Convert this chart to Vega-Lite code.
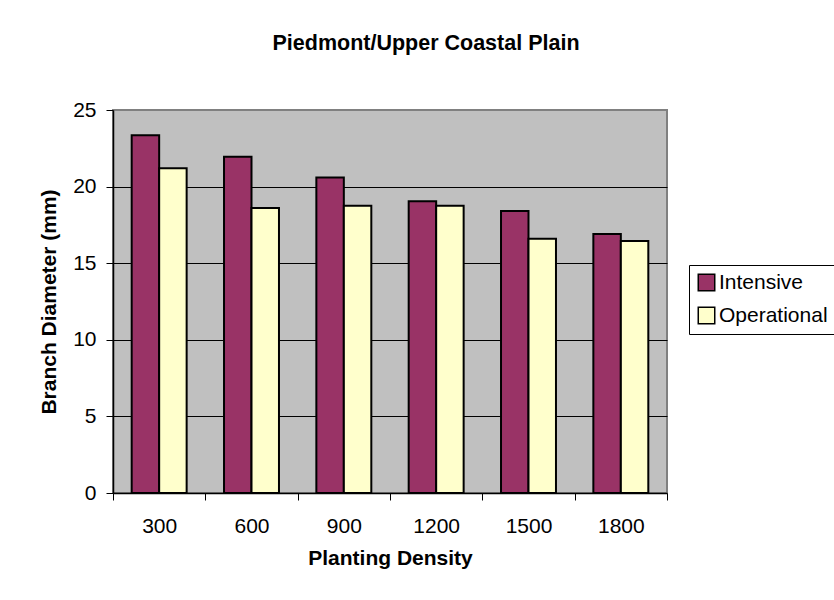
{
  "$schema": "https://vega.github.io/schema/vega-lite/v6.json",
  "autosize": "none",
  "width": 554,
  "height": 383,
  "padding": {"left": 113, "top": 110, "right": 167, "bottom": 107},
  "background": "white",
  "title": {
    "text": "Piedmont/Upper Coastal Plain",
    "anchor": "middle",
    "frame": "group",
    "dx": 36,
    "offset": 28,
    "baseline": "alphabetic",
    "font": "Liberation Sans",
    "fontSize": 21.5,
    "fontWeight": "bold",
    "color": "black"
  },
  "data": {
    "values": [
      {"density": 300, "series": "Intensive", "diameter": 23.35},
      {"density": 300, "series": "Operational", "diameter": 21.2},
      {"density": 600, "series": "Intensive", "diameter": 21.95},
      {"density": 600, "series": "Operational", "diameter": 18.6},
      {"density": 900, "series": "Intensive", "diameter": 20.6},
      {"density": 900, "series": "Operational", "diameter": 18.75},
      {"density": 1200, "series": "Intensive", "diameter": 19.05},
      {"density": 1200, "series": "Operational", "diameter": 18.75},
      {"density": 1500, "series": "Intensive", "diameter": 18.4},
      {"density": 1500, "series": "Operational", "diameter": 16.6},
      {"density": 1800, "series": "Intensive", "diameter": 16.9},
      {"density": 1800, "series": "Operational", "diameter": 16.45}
    ]
  },
  "mark": {"type": "bar", "stroke": "black", "strokeWidth": 2},
  "encoding": {
    "x": {
      "field": "density",
      "type": "ordinal",
      "scale": {"paddingInner": 0, "paddingOuter": 0},
      "axis": {
        "title": "Planting Density",
        "titleFont": "Liberation Sans",
        "titleFontSize": 21,
        "titleFontWeight": "bold",
        "titleColor": "black",
        "titlePadding": 11,
        "labelAngle": 0,
        "labelFont": "Liberation Sans",
        "labelFontSize": 21,
        "labelColor": "black",
        "labelPadding": 15,
        "tickBand": "extent",
        "tickSize": 7,
        "tickColor": "black",
        "tickWidth": 1,
        "domainColor": "black",
        "domainWidth": 1.5,
        "grid": false
      }
    },
    "xOffset": {
      "field": "series",
      "type": "nominal",
      "sort": ["Intensive", "Operational"],
      "scale": {"paddingInner": 0, "paddingOuter": 0.68}
    },
    "y": {
      "field": "diameter",
      "type": "quantitative",
      "scale": {"domain": [0, 25], "nice": false},
      "axis": {
        "title": "Branch Diameter (mm)",
        "titleFont": "Liberation Sans",
        "titleFontSize": 21,
        "titleFontWeight": "bold",
        "titleColor": "black",
        "titlePadding": 13,
        "values": [0, 5, 10, 15, 20, 25],
        "labelFont": "Liberation Sans",
        "labelFontSize": 21,
        "labelColor": "black",
        "labelPadding": 10,
        "labelFlush": false,
        "labelOverlap": false,
        "tickSize": 7,
        "tickColor": "black",
        "tickWidth": 1,
        "domainColor": "black",
        "domainWidth": 1.5,
        "grid": true,
        "gridColor": "black",
        "gridWidth": 1,
        "gridOpacity": {
          "condition": {"test": "datum.value === 25 || datum.value === 0", "value": 0},
          "value": 1
        }
      }
    },
    "color": {
      "field": "series",
      "type": "nominal",
      "scale": {"domain": ["Intensive", "Operational"], "range": ["#993366", "#FFFFCC"]},
      "legend": {
        "title": null,
        "orient": "none",
        "legendX": 576,
        "legendY": 155,
        "strokeColor": "black",
        "fillColor": "white",
        "padding": 7,
        "rowPadding": 10,
        "symbolType": "square",
        "symbolSize": 272,
        "symbolStrokeColor": "black",
        "symbolStrokeWidth": 1.5,
        "symbolOpacity": 1,
        "labelFont": "Liberation Sans",
        "labelFontSize": 21,
        "labelColor": "black",
        "labelOffset": 2,
        "labelLimit": 300
      }
    }
  },
  "config": {
    "view": {"fill": "#C0C0C0", "stroke": "#808080", "strokeWidth": 2}
  }
}
